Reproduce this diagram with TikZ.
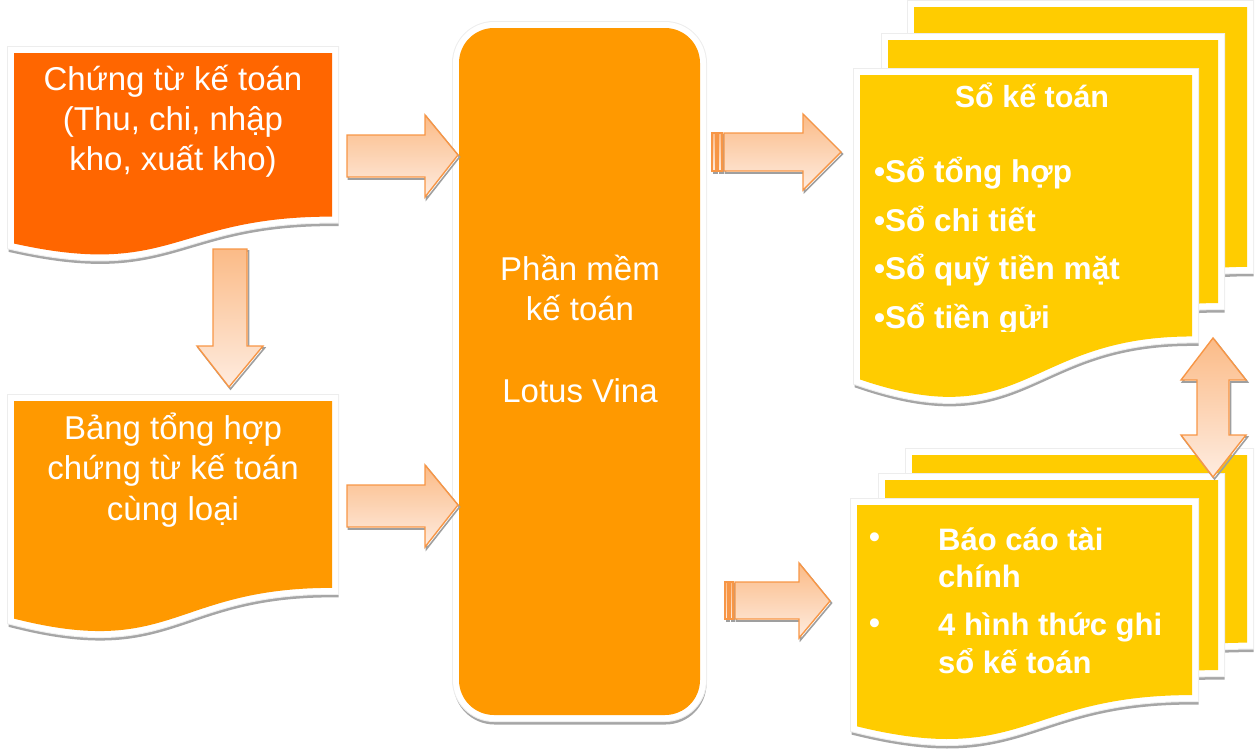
\documentclass[tikz,border=0pt]{standalone}
\usepackage{fontspec}
\setmainfont{Liberation Sans}
\definecolor{docA}{RGB}{255,102,0}
\definecolor{docB}{RGB}{255,153,0}
\definecolor{docC}{RGB}{255,204,0}
\definecolor{arrB}{RGB}{247,150,70}
\definecolor{arrT}{RGB}{251,187,135}
\definecolor{arrL}{RGB}{254,236,224}
% document page: #1 left, #2 right, #3 top, #4 height, #5 colour
\newcommand\docpage[5]{%
  \foreach \sty in {docshadow,docring,docwhite}{%
    \path[\sty] (#1,#3) -- (#2,#3) -- (#2,{#3+0.802*#4})
      .. controls ({(#1+#2)/2},{#3+0.802*#4}) and ({(#1+#2)/2},{#3+1.1075*#4}) .. (#1,{#3+0.934*#4}) -- cycle;}
  \path[fill=#5] (#1,#3) -- (#2,#3) -- (#2,{#3+0.802*#4})
      .. controls ({(#1+#2)/2},{#3+0.802*#4}) and ({(#1+#2)/2},{#3+1.1075*#4}) .. (#1,{#3+0.934*#4}) -- cycle;}
\begin{document}
\begin{tikzpicture}[x=1pt,y=-1pt,
  docshadow/.style={draw=gray!70,line width=12pt,shift={(0.5,3.5)}},
  docring/.style={draw=gray!14,line width=14pt},
  docwhite/.style={draw=white,line width=12pt},
  arrsty/.style={draw=arrB,line width=1.4pt,top color=arrT,bottom color=arrL,line join=miter},
  arrshadow/.style={draw=gray!75,line width=1.6pt,shift={(1.5,2)}},
  txt/.style={text=white,inner sep=0pt,font=\fontsize{33}{40}\selectfont,anchor=base},
  btxt/.style={text=white,inner sep=0pt,font=\bfseries\fontsize{31.5}{36}\selectfont,anchor=base west},
  ctxt/.style={text=white,inner sep=0pt,font=\bfseries\fontsize{31}{37}\selectfont,anchor=base west}]
\useasboundingbox (0,0) rectangle (1255,755);

% ---------- left documents ----------
\docpage{14}{332}{53}{204}{docA}
\docpage{14}{332}{401}{233}{docB}

% ---------- centre rounded box ----------
\foreach \sty in {docshadow,docring,docwhite}{
  \path[\sty,rounded corners=35pt] (459,28) rectangle (700,715);}
\path[fill=docB,rounded corners=35pt] (459,28) rectangle (700,715);

% ---------- right top multi-document ----------
\docpage{914}{1247}{7}{324}{docC}
\docpage{888}{1218}{40}{328}{docC}
\docpage{860}{1192}{75}{326}{docC}

% ---------- right bottom multi-document ----------
\docpage{912}{1247}{455}{234}{docC}
\docpage{885}{1218}{480}{237}{docC}
\docpage{857}{1192}{505}{237}{docC}

% ---------- texts ----------
\node[txt] (a1) at (173,90) {Chứng từ kế toán};
\node[txt] (a2) at (173,130) {(Thu, chi, nhập};
\node[txt] (a3) at (173,170) {kho, xuất kho)};

\node[txt] (b1) at (173,439) {Bảng tổng hợp};
\node[txt] (b2) at (173,479) {chứng từ kế toán};
\node[txt] (b3) at (173,520) {cùng loại};

\node[txt] (c1) at (580,280) {Phần mềm};
\node[txt] (c2) at (580,320) {kế toán};
\node[txt] (c3) at (580,402) {Lotus Vina};

\node[text=white,inner sep=0pt,font=\bfseries\fontsize{30.5}{36}\selectfont,anchor=base] (s0) at (1032,107) {Sổ kế toán};
\node[btxt] (s1) at (874,182) {•Sổ tổng hợp};
\node[btxt] (s2) at (874,231) {•Sổ chi tiết};
\node[btxt] (s3) at (874,279) {•Sổ quỹ tiền mặt};
\begin{scope}
  \clip (860,290) rectangle (1192,331);
  \node[btxt] (s4) at (874,328) {•Sổ tiền gửi};
\end{scope}

\node[ctxt] (r0) at (869,547) {•};
\node[ctxt] (r1) at (938,550) {Báo cáo tài};
\node[ctxt] (r2) at (938,587) {chính};
\node[ctxt] (q0) at (869,633) {•};
\node[ctxt] (q1) at (938,635) {4 hình thức ghi};
\node[ctxt] (q2) at (938,673) {sổ kế toán};

% ---------- block arrows ----------
\foreach \sty in {arrshadow,arrsty}{
  % document 1 -> software
  \path[\sty] (347,135) -- (425,135) -- (425,115) -- (458,155) -- (425,197) -- (425,177) -- (347,177) -- cycle;
  % summary -> software
  \path[\sty] (347,485) -- (425,485) -- (425,465) -- (458,505) -- (425,547) -- (425,527) -- (347,527) -- cycle;
  % document 1 -> summary
  \path[\sty] (213,249) -- (247,249) -- (247,346) -- (263,346) -- (229,387) -- (197,346) -- (213,346) -- cycle;
  % software -> books
  \path[\sty] (724,133) -- (803,133) -- (803,114) -- (841,152) -- (803,190) -- (803,171) -- (724,171) -- cycle;
  \path[\sty] (712,133) rectangle (716,171);
  \path[\sty] (718,133) rectangle (722,171);
  % software -> reports
  \path[\sty] (735,582) -- (799,582) -- (799,563) -- (830,601) -- (799,638) -- (799,619) -- (735,619) -- cycle;
  \path[\sty] (725,582) rectangle (728,619);
  \path[\sty] (730,582) rectangle (733,619);
  % books <-> reports
  \path[\sty] (1213,338) -- (1246,380) -- (1229,380) -- (1229,435) -- (1246,435) -- (1213,477) -- (1181,435) -- (1197,435) -- (1197,380) -- (1181,380) -- cycle;
}
\end{tikzpicture}
\end{document}
